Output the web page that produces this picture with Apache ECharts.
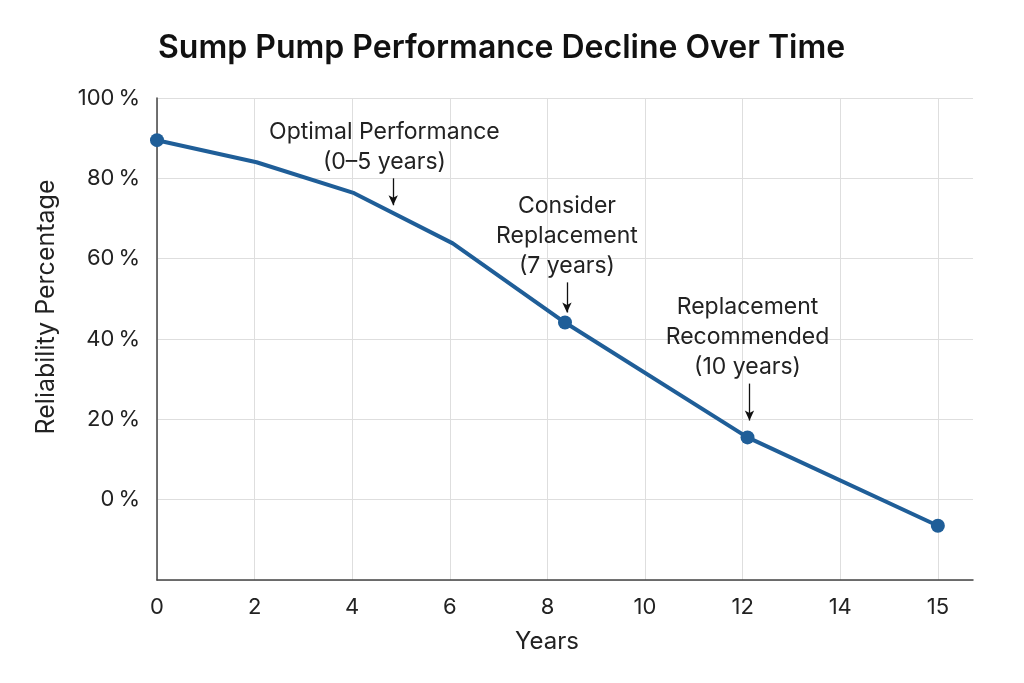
<!DOCTYPE html>
<html>
<head>
<meta charset="utf-8">
<script src="https://cdn.jsdelivr.net/npm/echarts@6/dist/echarts.min.js"></script>
<style>html,body{margin:0;padding:0;background:#fff}#c{width:1024px;height:683px}</style>
</head>
<body>
<div id="c"></div>
<script>
// Tick labels along the x axis (evenly spaced positions 0..8)
const xTickLabels = ['0', '2', '4', '6', '8', '10', '12', '14', '15'];
// Line vertices: position on the x axis (tick index units) and reliability %
const pointX = [0, 1.02, 2.02, 3.03, 4.18, 6.05, 8.0];
const pointY = [89.5, 84.0, 76.3, 63.8, 44.1, 15.5, -6.5];
const pointMarked = [true, false, false, false, true, true, true];
// Annotations
const noteText = ['Optimal Performance\n(0–5 years)', 'Consider\nReplacement\n(7 years)', 'Replacement\nRecommended\n(10 years)'];
const noteX = [2.33, 4.2, 6.05];
const noteY = [87.7, 65.6, 40.6];
const arrowX = [2.42, 4.2, 6.07];
const arrowFrom = [80.0, 54.1, 28.9];
const arrowTo = [73.3, 46.6, 19.7];

const FONT = 'Inter, "Noto Sans", sans-serif';
const chart = echarts.init(document.getElementById('c'));
const xMax = 8.36;
const splitColors = [];
for (let i = 0; i < 9; i++) splitColors.push('#dedede');
splitColors.push('rgba(0,0,0,0)');

chart.setOption({
  backgroundColor: '#fff',
  animation: false,
  title: {
    text: 'Sump Pump Performance Decline Over Time',
    left: 153, top: 27,
    textStyle: { fontFamily: FONT, fontSize: 32, fontWeight: 600, color: '#111' }
  },
  grid: { left: 157, top: 98, right: 51, bottom: 103, containLabel: false },
  xAxis: {
    type: 'value', min: 0, max: xMax, interval: 1,
    name: 'Years', nameLocation: 'middle', nameGap: 50,
    nameTextStyle: { fontFamily: FONT, fontSize: 24, color: '#222', padding: [0, 36, 0, 0] },
    axisLine: { show: true, onZero: false, lineStyle: { color: '#444', width: 1.5 } },
    axisTick: { show: false },
    axisLabel: {
      margin: 16, fontFamily: FONT, fontSize: 22, color: '#222',
      formatter: v => (Number.isInteger(v) && v >= 0 && v < xTickLabels.length) ? xTickLabels[v] : '',
      showMaxLabel: false
    },
    splitLine: { show: true, lineStyle: { color: splitColors, width: 1 } }
  },
  yAxis: {
    type: 'value', min: -20, max: 100, interval: 20,
    name: 'Reliability Percentage', nameLocation: 'middle', nameGap: 98, nameRotate: 90,
    nameTextStyle: { fontFamily: FONT, fontSize: 25, color: '#222', padding: [0, 0, 0, 64] },
    axisLine: { show: true, onZero: false, lineStyle: { color: '#444', width: 1.5 } },
    axisTick: { show: false },
    axisLabel: {
      margin: 17, fontFamily: FONT, fontSize: 22, color: '#222',
      formatter: v => v < 0 ? '' : v + '\u2009%'
    },
    splitLine: { show: true, lineStyle: { color: '#dedede', width: 1 } }
  },
  series: [{
    type: 'line',
    data: pointX.map((x, i) => ({
      value: [x, pointY[i]],
      symbol: pointMarked[i] ? 'circle' : 'none',
      symbolSize: 14
    })),
    lineStyle: { color: '#1f5e98', width: 4 },
    itemStyle: { color: '#1f5e98' },
    showAllSymbol: true,
    z: 3,
    markPoint: {
      symbol: 'circle', symbolSize: 0,
      label: {
        show: true, position: 'inside', align: 'center', verticalAlign: 'middle',
        fontFamily: FONT, fontSize: 23, lineHeight: 30, color: '#222'
      },
      data: noteText.map((t, i) => ({
        coord: [noteX[i], noteY[i]],
        label: { formatter: t }
      }))
    },
    markLine: {
      silent: true,
      symbol: ['none', 'arrow'], symbolSize: [7, 10],
      label: { show: false },
      lineStyle: { color: '#111', width: 1.3, type: 'solid' },
      data: arrowX.map((x, i) => [
        { coord: [x, arrowFrom[i]] },
        { coord: [x, arrowTo[i]] }
      ])
    }
  }]
});
</script>
</body>
</html>
